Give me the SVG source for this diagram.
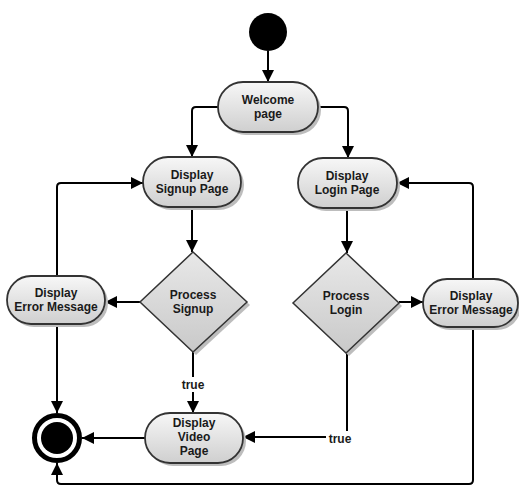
<svg xmlns="http://www.w3.org/2000/svg" width="519" height="487" viewBox="0 0 519 487">
<defs>
<linearGradient id="gNode" x1="0" y1="0" x2="0" y2="1">
<stop offset="0" stop-color="#f7f7f7"/>
<stop offset="1" stop-color="#cfcfcf"/>
</linearGradient>
<linearGradient id="gDia" x1="0" y1="0" x2="0" y2="1">
<stop offset="0" stop-color="#e8e8e8"/>
<stop offset="1" stop-color="#c9c9c9"/>
</linearGradient>
<marker id="arr" markerUnits="userSpaceOnUse" markerWidth="12" markerHeight="12" refX="12" refY="6" orient="auto">
<path d="M0,0 L12,6 L0,12 z" fill="#000"/>
</marker>
</defs>
<style>
.node{fill:url(#gNode);stroke:#333;stroke-width:1.8}
.dia{fill:url(#gDia);stroke:#333;stroke-width:1.5}
.sh{fill:#bdbdbd;stroke:none}
.lbl{font-family:"Liberation Sans",Arial,sans-serif;font-weight:bold;font-size:12px;fill:#1a1a1a;text-anchor:middle}
.edge{fill:none;stroke:#000;stroke-width:2;marker-end:url(#arr)}
.plain{fill:none;stroke:#000;stroke-width:2}
</style>

<g id="connectors">
<path class="edge" d="M268,51 L268,82"/>
<path class="edge" d="M218,107 L196,107 Q192,107 192,111 L192,157"/>
<path class="edge" d="M318,107 L344,107 Q348,107 348,111 L348,158"/>
<path class="edge" d="M192,207 L192,252"/>
<path class="edge" d="M347,208 L347,253"/>
<path class="edge" d="M140,302 L105,302"/>
<path class="edge" d="M399,302 L423,302"/>
<path class="edge" d="M57,276 L57,187 Q57,183 61,183 L143,183"/>
<path class="edge" d="M473,279 L473,187 Q473,183 469,183 L397,183"/>
<path class="edge" d="M57,324 L57,413"/>
<path class="edge" d="M145,438 L82,438"/>
<path class="edge" d="M193,352 L193,413"/>
<path class="edge" d="M347,353 L347,437 L243,437"/>
<path class="edge" d="M473,327 L473,480 Q473,484 469,484 L61,484 Q57,484 57,480 L57,463"/>
<rect x="180" y="377" width="26" height="15" fill="#fff"/>
<text class="lbl" x="193" y="389">true</text>
<rect x="326" y="431" width="28" height="15" fill="#fff"/>
<text class="lbl" x="340" y="443">true</text>
</g>

<g id="start">
<circle cx="268" cy="32" r="19" fill="#000"/>
</g>

<g id="welcome">
<rect class="sh" x="221" y="85" width="100" height="50" rx="25"/>
<rect class="node" x="218" y="82" width="100" height="50" rx="25"/>
<text class="lbl" x="268" y="104">Welcome</text>
<text class="lbl" x="268" y="118">page</text>
</g>

<g id="signup">
<rect class="sh" x="146" y="160" width="98" height="50" rx="25"/>
<rect class="node" x="143" y="157" width="98" height="50" rx="25"/>
<text class="lbl" x="192" y="179">Display</text>
<text class="lbl" x="192" y="193">Signup Page</text>
</g>

<g id="login">
<rect class="sh" x="301" y="161" width="99" height="50" rx="25"/>
<rect class="node" x="298" y="158" width="99" height="50" rx="25"/>
<text class="lbl" x="347" y="180">Display</text>
<text class="lbl" x="347" y="194">Login Page</text>
</g>

<g id="processSignup">
<polygon class="sh" points="196,255 250,305 196,355 143,305"/>
<polygon class="dia" points="193,252 247,302 193,352 140,302"/>
<text class="lbl" x="193" y="299">Process</text>
<text class="lbl" x="193" y="313">Signup</text>
</g>

<g id="processLogin">
<polygon class="sh" points="349,256 402,306 349,356 296,306"/>
<polygon class="dia" points="346,253 399,303 346,353 293,303"/>
<text class="lbl" x="346" y="300">Process</text>
<text class="lbl" x="346" y="314">Login</text>
</g>

<g id="errorLeft">
<rect class="sh" x="10" y="279" width="98" height="48" rx="24"/>
<rect class="node" x="7" y="276" width="98" height="48" rx="24"/>
<text class="lbl" x="56" y="297">Display</text>
<text class="lbl" x="56" y="311">Error Message</text>
</g>

<g id="errorRight">
<rect class="sh" x="426" y="282" width="95" height="48" rx="24"/>
<rect class="node" x="423" y="279" width="95" height="48" rx="24"/>
<text class="lbl" x="471" y="300">Display</text>
<text class="lbl" x="471" y="314">Error Message</text>
</g>

<g id="video">
<rect class="sh" x="148" y="416" width="98" height="50" rx="25"/>
<rect class="node" x="145" y="413" width="98" height="50" rx="25"/>
<text class="lbl" x="194" y="427">Display</text>
<text class="lbl" x="194" y="441">Video</text>
<text class="lbl" x="194" y="455">Page</text>
</g>

<g id="final">
<circle cx="57" cy="438" r="22.5" fill="#fff" stroke="#000" stroke-width="5"/>
<circle cx="57" cy="438" r="16" fill="#000"/>
</g>
</svg>
